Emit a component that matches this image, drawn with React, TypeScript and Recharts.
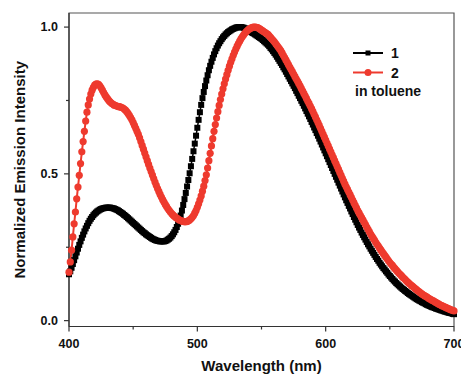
import { LineChart, Line, XAxis, YAxis, ReferenceArea } from "recharts";

// sampling grid of the spectra (nm)
const START_NM = 400;
const STEP_NM = 1;

const seriesNames = ["1", "2"];
const note = "in toluene";

const xTicks = [400, 450, 500, 550, 600, 650, 700];
const yTicks = [0, 0.25, 0.5, 0.75, 1.0];

// compound 1, 400..700 nm
const emission1 = [
  0.158, 0.168, 0.18, 0.193, 0.206, 0.219, 0.232, 0.245, 0.258, 0.27,
  0.282, 0.293, 0.304, 0.314, 0.323, 0.332, 0.34, 0.347, 0.353, 0.359,
  0.364, 0.368, 0.372, 0.375, 0.378, 0.38, 0.382, 0.383, 0.384, 0.385,
  0.385, 0.385, 0.385, 0.384, 0.383, 0.382, 0.38, 0.378, 0.376, 0.373,
  0.37, 0.367, 0.364, 0.36, 0.357, 0.353, 0.349, 0.345, 0.341, 0.337,
  0.333, 0.329, 0.325, 0.321, 0.317, 0.313, 0.309, 0.305, 0.301, 0.298,
  0.294, 0.291, 0.288, 0.285, 0.282, 0.279, 0.277, 0.275, 0.273, 0.272,
  0.271, 0.27, 0.27, 0.27, 0.27, 0.271, 0.273, 0.276, 0.279, 0.283,
  0.288, 0.294, 0.301, 0.309, 0.319, 0.33, 0.343, 0.358, 0.375, 0.394,
  0.414, 0.435, 0.457, 0.479, 0.502, 0.526, 0.551, 0.577, 0.603, 0.63,
  0.657, 0.684, 0.71, 0.735, 0.758, 0.779, 0.799, 0.818, 0.836, 0.853,
  0.868, 0.882, 0.895, 0.907, 0.918, 0.928, 0.937, 0.945, 0.952, 0.959,
  0.965, 0.97, 0.975, 0.979, 0.983, 0.986, 0.989, 0.992, 0.994, 0.996,
  0.998, 0.999, 1.0, 1.0, 1.0, 0.999, 0.998, 0.996, 0.994, 0.991,
  0.988, 0.986, 0.983, 0.98, 0.978, 0.975, 0.972, 0.969, 0.966, 0.963,
  0.96, 0.956, 0.952, 0.948, 0.944, 0.94, 0.935, 0.929, 0.924, 0.918,
  0.912, 0.906, 0.899, 0.892, 0.885, 0.878, 0.871, 0.863, 0.856, 0.848,
  0.84, 0.832, 0.824, 0.816, 0.808, 0.8, 0.792, 0.783, 0.775, 0.766,
  0.758, 0.749, 0.741, 0.732, 0.723, 0.714, 0.705, 0.696, 0.687, 0.677,
  0.668, 0.658, 0.649, 0.639, 0.63, 0.62, 0.61, 0.6, 0.59, 0.58,
  0.57, 0.56, 0.55, 0.54, 0.53, 0.52, 0.51, 0.5, 0.49, 0.48,
  0.47, 0.46, 0.45, 0.44, 0.43, 0.42, 0.41, 0.401, 0.391, 0.382,
  0.372, 0.363, 0.353, 0.344, 0.335, 0.326, 0.317, 0.309, 0.3, 0.292,
  0.284, 0.276, 0.268, 0.26, 0.253, 0.245, 0.238, 0.231, 0.224, 0.217,
  0.21, 0.204, 0.197, 0.191, 0.185, 0.179, 0.174, 0.168, 0.163, 0.157,
  0.152, 0.147, 0.142, 0.137, 0.133, 0.128, 0.124, 0.12, 0.116, 0.112,
  0.108, 0.105, 0.101, 0.098, 0.094, 0.091, 0.088, 0.085, 0.082, 0.079,
  0.076, 0.073, 0.071, 0.068, 0.066, 0.063, 0.061, 0.059, 0.056, 0.054,
  0.052, 0.05, 0.048, 0.046, 0.045, 0.043, 0.041, 0.04, 0.038, 0.037,
  0.035, 0.034, 0.032, 0.031, 0.03, 0.028, 0.027, 0.026, 0.025, 0.023,
  0.022,
];

// compound 2, 400..700 nm
const emission2 = [
  0.165, 0.2, 0.24, 0.285, 0.33, 0.37, 0.415, 0.455, 0.495, 0.535,
  0.575, 0.61, 0.645, 0.68, 0.71, 0.735, 0.755, 0.772, 0.785, 0.795,
  0.802, 0.806, 0.807, 0.805, 0.8, 0.793, 0.785, 0.777, 0.769, 0.762,
  0.756, 0.75, 0.745, 0.741, 0.738, 0.735, 0.733, 0.731, 0.73, 0.729,
  0.728, 0.726, 0.724, 0.721, 0.717, 0.712, 0.706, 0.699, 0.692, 0.684,
  0.675, 0.665, 0.655, 0.645, 0.635, 0.623, 0.61, 0.597, 0.584, 0.571,
  0.558, 0.545, 0.532, 0.52, 0.508, 0.496, 0.484, 0.472, 0.461, 0.45,
  0.44, 0.43, 0.421, 0.412, 0.404, 0.396, 0.389, 0.382, 0.376, 0.37,
  0.365, 0.36, 0.356, 0.352, 0.349, 0.346, 0.343, 0.341, 0.339, 0.338,
  0.337, 0.337, 0.338, 0.34, 0.343, 0.347, 0.352, 0.358, 0.366, 0.375,
  0.386, 0.398, 0.411, 0.425, 0.441, 0.458, 0.477, 0.497, 0.52, 0.545,
  0.57, 0.595, 0.62, 0.645, 0.668, 0.69, 0.712, 0.733, 0.753, 0.772,
  0.79, 0.807, 0.823, 0.838, 0.853, 0.867, 0.88, 0.892, 0.904, 0.915,
  0.925, 0.935, 0.944, 0.952, 0.96, 0.967, 0.973, 0.979, 0.984, 0.988,
  0.992, 0.995, 0.997, 0.999, 1.0, 1.0, 0.999, 0.998, 0.996, 0.993,
  0.99, 0.987, 0.984, 0.981, 0.978, 0.975, 0.97, 0.965, 0.96, 0.955,
  0.95, 0.944, 0.938, 0.932, 0.926, 0.92, 0.912, 0.904, 0.896, 0.888,
  0.88, 0.872, 0.864, 0.856, 0.848, 0.84, 0.832, 0.824, 0.816, 0.808,
  0.8, 0.791, 0.783, 0.774, 0.766, 0.757, 0.748, 0.74, 0.731, 0.722,
  0.713, 0.703, 0.694, 0.684, 0.675, 0.665, 0.655, 0.645, 0.635, 0.625,
  0.615, 0.605, 0.595, 0.585, 0.575, 0.565, 0.555, 0.545, 0.535, 0.525,
  0.515, 0.505, 0.495, 0.485, 0.475, 0.465, 0.456, 0.447, 0.438, 0.429,
  0.42, 0.411, 0.402, 0.393, 0.384, 0.375, 0.367, 0.359, 0.351, 0.343,
  0.335, 0.327, 0.319, 0.311, 0.303, 0.295, 0.288, 0.281, 0.274, 0.267,
  0.26, 0.254, 0.247, 0.241, 0.234, 0.228, 0.222, 0.216, 0.21, 0.204,
  0.198, 0.193, 0.188, 0.182, 0.177, 0.172, 0.167, 0.162, 0.158, 0.153,
  0.148, 0.144, 0.14, 0.135, 0.131, 0.127, 0.123, 0.119, 0.116, 0.112,
  0.108, 0.105, 0.101, 0.098, 0.094, 0.091, 0.088, 0.085, 0.083, 0.08,
  0.077, 0.074, 0.072, 0.069, 0.067, 0.064, 0.062, 0.059, 0.057, 0.054,
  0.052, 0.05, 0.048, 0.046, 0.044, 0.042, 0.04, 0.038, 0.036, 0.035,
  0.033,
];

const BLACK = "#000000";
const RED = "#ee3a2e";
const AXIS = "#333333";
const FONT = "'Liberation Sans', Arial, sans-serif";

const data = emission1.map((v, i) => ({
  nm: START_NM + i * STEP_NM,
  s1: v,
  s2: emission2[i],
}));

const SquareDot = (props: any) => {
  const { cx, cy, index } = props;
  if (cx == null || cy == null) return null;
  return <rect key={`sq-${index}`} x={cx - 3} y={cy - 3} width={6} height={6} fill={BLACK} />;
};

const XTick = (props: any) => {
  const { x, y, payload } = props;
  const major = payload.value % 100 === 0;
  return (
    <g>
      <line x1={x} y1={y} x2={x} y2={y + (major ? 5 : 3)} stroke={AXIS} strokeWidth={1.2} />
      {major && (
        <text x={x} y={y + 21.5} textAnchor="middle" fontFamily={FONT} fontWeight="bold" fontSize={12.5} fill="#111">
          {payload.value}
        </text>
      )}
    </g>
  );
};

const YTick = (props: any) => {
  const { x, y, payload } = props;
  const major = Math.abs((payload.value * 2) % 1) < 1e-6;
  return (
    <g>
      <line x1={x - (major ? 5 : 3)} y1={y} x2={x} y2={y} stroke={AXIS} strokeWidth={1.2} />
      {major && (
        <text x={x - 11} y={y} textAnchor="end" dominantBaseline="central" fontFamily={FONT} fontWeight="bold" fontSize={12.5} fill="#111">
          {payload.value.toFixed(1)}
        </text>
      )}
    </g>
  );
};

export default function App() {
  return (
    <div style={{ position: "absolute", left: 0, top: 0, width: 461, height: 375, background: "#fff" }}>
      <LineChart width={461} height={375} data={data} margin={{ top: 13, right: 7, bottom: 0, left: 0 }}>
        <XAxis
          dataKey="nm"
          type="number"
          domain={[400, 700]}
          ticks={xTicks}
          interval={0}
          tickSize={0}
          tickMargin={0}
          tickLine={false}
          tick={<XTick />}
          axisLine={{ stroke: AXIS, strokeWidth: 1.2 }}
          height={48.5}
          label={{
            value: "Wavelength (nm)",
            content: (p: any) => (
              <text
                x={p.viewBox.x + p.viewBox.width / 2}
                y={p.viewBox.y + 44.5}
                textAnchor="middle"
                fontFamily={FONT}
                fontWeight="bold"
                fontSize={15}
                fill="#111"
              >
                Wavelength (nm)
              </text>
            ),
          }}
        />
        <YAxis
          type="number"
          domain={[-0.02, 1.048]}
          ticks={yTicks}
          interval={0}
          tickSize={0}
          tickMargin={0}
          tickLine={false}
          tick={<YTick />}
          axisLine={{ stroke: AXIS, strokeWidth: 1.2 }}
          width={69}
          label={{
            value: "Normalized Emission Intensity",
            content: (p: any) => {
              const cy = p.viewBox.y + p.viewBox.height / 2;
              return (
                <text
                  x={19}
                  y={cy}
                  transform={`rotate(-90 19 ${cy})`}
                  textAnchor="middle"
                  dominantBaseline="central"
                  fontFamily={FONT}
                  fontWeight="bold"
                  fontSize={15}
                  fill="#111"
                >
                  Normalized Emission Intensity
                </text>
              );
            },
          }}
        />
        <ReferenceArea x1={400} x2={700} y1={-0.02} y2={1.048} fill="none" stroke="#555" strokeWidth={1.2} />
        <Line
          dataKey="s1"
          name={seriesNames[0]}
          stroke={BLACK}
          strokeWidth={1.5}
          dot={<SquareDot />}
          isAnimationActive={false}
        />
        <Line
          dataKey="s2"
          name={seriesNames[1]}
          stroke={RED}
          strokeWidth={2}
          dot={{ r: 3.6, fill: RED, stroke: "none" }}
          isAnimationActive={false}
        />
      </LineChart>

      {/* legend */}
      <svg width={110} height={70} style={{ position: "absolute", left: 345, top: 40 }}>
        <line x1={8} y1={13} x2={38} y2={13} stroke={BLACK} strokeWidth={2} />
        <rect x={20.5} y={10.5} width={5} height={5} fill={BLACK} />
        <text x={46} y={18.3} fontFamily={FONT} fontWeight="bold" fontSize={14} fill="#111">
          {seriesNames[0]}
        </text>
        <line x1={8} y1={32.5} x2={38} y2={32.5} stroke={RED} strokeWidth={2} />
        <circle cx={23} cy={32.5} r={3.5} fill={RED} />
        <text x={46} y={37.5} fontFamily={FONT} fontWeight="bold" fontSize={14} fill="#111">
          {seriesNames[1]}
        </text>
        <text x={10} y={56} fontFamily={FONT} fontWeight="bold" fontSize={14} fill="#111">
          {note}
        </text>
      </svg>
    </div>
  );
}
